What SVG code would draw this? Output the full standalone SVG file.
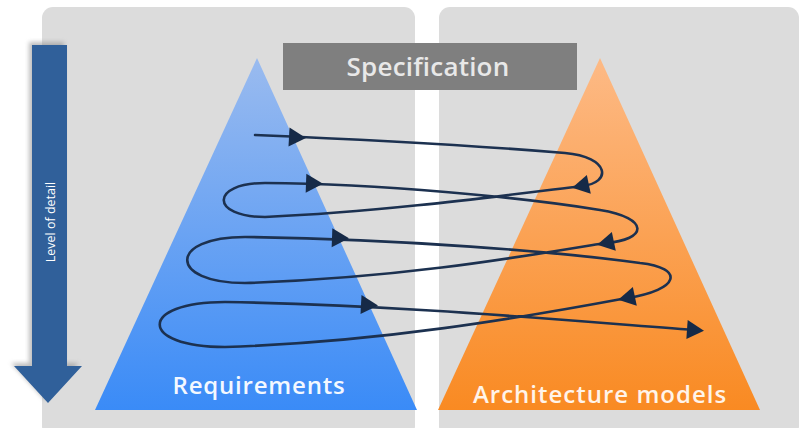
<svg xmlns="http://www.w3.org/2000/svg" width="801" height="428" viewBox="0 0 801 428">
  <defs>
    <linearGradient id="gBlue" x1="0" y1="0" x2="0" y2="1">
      <stop offset="0" stop-color="#9ABBEF"/>
      <stop offset="1" stop-color="#3A8BF7"/>
    </linearGradient>
    <linearGradient id="gOrange" x1="0" y1="0" x2="0" y2="1">
      <stop offset="0" stop-color="#FDBA86"/>
      <stop offset="1" stop-color="#F98A22"/>
    </linearGradient>
    <filter id="blur" x="-50%" y="-20%" width="200%" height="140%">
      <feGaussianBlur stdDeviation="2"/>
    </filter>
    <path id="ah" d="M9,0 L-8,-9.5 L-8,9.5 Z"/>
    <style>
      .panel { fill: #DCDCDC; }
      .label { font-family: "Open Sans", "Liberation Sans", sans-serif; text-anchor: middle; font-weight: 600; }
      .small { font-family: "Open Sans", "Liberation Sans", sans-serif; text-anchor: middle; font-weight: 400; }
      .spiral { fill: none; stroke: #1C3150; stroke-width: 2.6; stroke-linecap: round; }
      .head { fill: #162A47; }
    </style>
  </defs>
  <rect width="801" height="428" fill="#FFFFFF"/>

  <g id="panel-left">
    <rect class="panel" x="42" y="7" width="373" height="430" rx="11"/>
  </g>
  <g id="panel-right">
    <rect class="panel" x="439" y="7" width="360" height="430" rx="11"/>
  </g>

  <g id="level-arrow">
    <path d="M32,45 H67 V366 H82 L48,403 L14,366 H32 Z" fill="#8A8A8A" opacity="0.55" transform="translate(-3,-3)" filter="url(#blur)"/>
    <path d="M32,45 H67 V366 H82 L48,403 L14,366 H32 Z" fill="#30609A"/>
    <text class="small" x="0" y="0" font-size="12.5" fill="#FFFFFF" transform="translate(55,222) rotate(-90)">Level of detail</text>
  </g>

  <g id="requirements">
    <polygon points="257,58 417,410 95,410" fill="url(#gBlue)"/>
    <text class="label" x="259" y="394" font-size="24" letter-spacing="0.8" fill="#F4F8FF">Requirements</text>
  </g>

  <g id="architecture-models">
    <polygon points="600,58 760,410 438,410" fill="url(#gOrange)"/>
    <text class="label" x="600" y="403" font-size="24" letter-spacing="1" fill="#FFF4EA">Architecture models</text>
  </g>

  <g id="specification">
    <rect x="283" y="43" width="294" height="47" fill="#7F7F7F"/>
    <text class="label" x="428" y="76" font-size="26" letter-spacing="0.2" fill="#E8E8E8">Specification</text>
  </g>

  <g id="connectors">
    <path class="spiral" d="M255,135 C350,139 480,146 565,153 C610,157 612,183 582,186 C500,196 380,212 265,217 C210,217 210,183 265,183 C380,184 520,197 600,210 C650,218 648,240 605,243 C520,257 400,278 245,283 C168,283 168,237 245,237 C400,239 560,252 640,263 C685,268 680,290 627,298 C520,318 380,342 225,347 C138,347 138,302 225,302 C400,305 560,320 695,330"/>
    <use href="#ah" class="head" transform="translate(297,137.5) rotate(3)"/>
    <use href="#ah" class="head" transform="translate(581,186) rotate(168)"/>
    <use href="#ah" class="head" transform="translate(314,183.5) rotate(2)"/>
    <use href="#ah" class="head" transform="translate(606,243) rotate(168)"/>
    <use href="#ah" class="head" transform="translate(340,238) rotate(2)"/>
    <use href="#ah" class="head" transform="translate(627,298) rotate(168)"/>
    <use href="#ah" class="head" transform="translate(369,305) rotate(3)"/>
    <use href="#ah" class="head" transform="translate(695,330) rotate(4)"/>
  </g>
</svg>
